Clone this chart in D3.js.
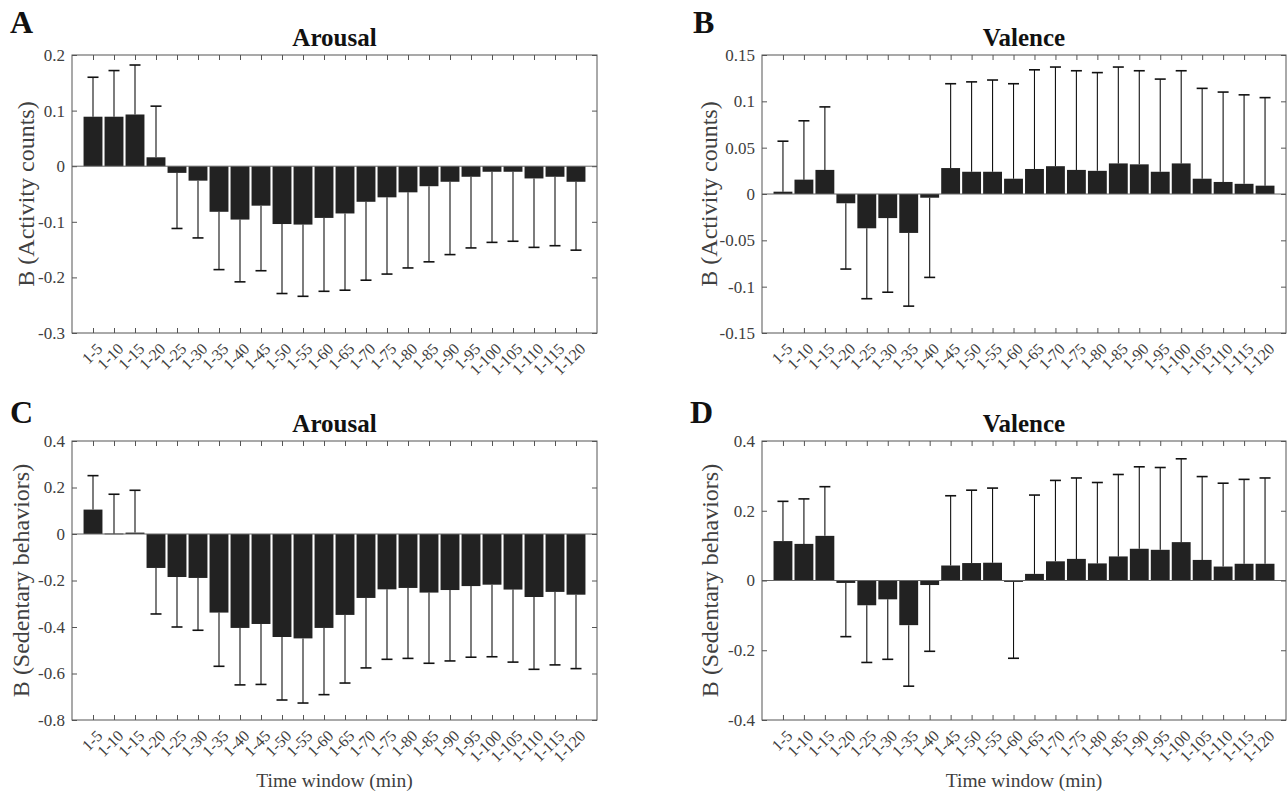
<!doctype html>
<html>
  <head>
    <meta charset="utf-8">
    <title>Arousal and valence</title>
    <script src="https://d3js.org/d3.v7.min.js"></script>
    <style type="text/css">
      body { margin: 0; background-color: #ffffff; }
    </style>
  </head>
  <body>
    <script>
      // Time window categories
      var windows = ["1-5","1-10","1-15","1-20","1-25","1-30","1-35","1-40","1-45","1-50","1-55","1-60",
                     "1-65","1-70","1-75","1-80","1-85","1-90","1-95","1-100","1-105","1-110","1-115","1-120"];

      // A: arousal vs activity counts
      var arousalActivity = [0.089,0.089,0.093,0.016,-0.012,-0.026,-0.082,-0.096,-0.071,-0.104,-0.105,-0.093,
                             -0.085,-0.064,-0.056,-0.047,-0.036,-0.028,-0.019,-0.010,-0.010,-0.022,-0.019,-0.028];
      var arousalActivityErr = [0.071,0.083,0.089,0.092,0.100,0.103,0.104,0.112,0.117,0.125,0.129,0.132,
                                0.138,0.141,0.138,0.136,0.136,0.131,0.128,0.127,0.125,0.124,0.124,0.123];

      // B: valence vs activity counts
      var valenceActivity = [0.0025,0.0155,0.026,-0.010,-0.037,-0.026,-0.042,-0.004,0.028,0.024,0.024,0.0165,
                             0.027,0.030,0.026,0.025,0.033,0.032,0.024,0.033,0.0165,0.013,0.011,0.009];
      var valenceActivityErr = [0.0545,0.0635,0.068,0.071,0.076,0.080,0.079,0.086,0.091,0.097,0.099,0.1025,
                                0.107,0.107,0.107,0.106,0.104,0.101,0.100,0.100,0.0975,0.097,0.096,0.095];

      // C: arousal vs sedentary behaviors
      var arousalSedentary = [0.105,0.002,0.006,-0.146,-0.185,-0.189,-0.338,-0.404,-0.387,-0.443,-0.449,-0.404,
                              -0.348,-0.275,-0.238,-0.232,-0.252,-0.241,-0.224,-0.218,-0.239,-0.271,-0.249,-0.261];
      var arousalSedentaryErr = [0.146,0.169,0.182,0.198,0.215,0.225,0.231,0.245,0.260,0.271,0.278,0.287,
                                 0.293,0.301,0.301,0.303,0.304,0.305,0.306,0.310,0.312,0.311,0.314,0.318];

      // D: valence vs sedentary behaviors
      var valenceSedentary = [0.113,0.105,0.128,-0.007,-0.071,-0.054,-0.128,-0.013,0.043,0.050,0.051,-0.004,
                              0.019,0.055,0.062,0.049,0.069,0.091,0.088,0.110,0.059,0.040,0.048,0.048];
      var valenceSedentaryErr = [0.114,0.129,0.141,0.154,0.164,0.172,0.175,0.190,0.200,0.209,0.214,0.219,
                                 0.226,0.232,0.232,0.232,0.235,0.235,0.236,0.239,0.239,0.239,0.242,0.246];

      // y tick values per panel
      var ticksA = [-0.3,-0.2,-0.1,0,0.1,0.2];
      var ticksB = [-0.15,-0.1,-0.05,0,0.05,0.1,0.15];
      var ticksC = [-0.8,-0.6,-0.4,-0.2,0,0.2,0.4];
      var ticksD = [-0.4,-0.2,0,0.2,0.4];

      var w = 1288, h = 797;
      var serif = "Liberation Serif, Times New Roman, serif";
      var axisColor = "#555555";
      var textColor = "#404040";
      var barColor = "#222222";

      var svg = d3.select("body")
        .append("svg")
        .attr("width", w)
        .attr("height", h)
        .attr("font-family", serif);

      function drawPanel(p) {
        var x = d3.scaleLinear().domain([0, 25]).range([p.left, p.right]);
        var y = d3.scaleLinear().domain([p.ticks[0], p.ticks[p.ticks.length - 1]]).range([p.bottom, p.top]);
        var g = svg.append("g");
        var bw = x(0.9) - x(0);

        // bars
        g.selectAll("rect.bar")
          .data(p.values)
          .enter()
          .append("rect")
          .attr("class", "bar")
          .attr("x", function(d, i) { return x(i + 1) - bw / 2; })
          .attr("y", function(d) { return Math.min(y(d), y(0)); })
          .attr("width", bw)
          .attr("height", function(d) { return Math.max(Math.abs(y(d) - y(0)), 0.8); })
          .attr("fill", barColor);

        // baseline
        g.append("line")
          .attr("x1", p.left).attr("x2", p.right)
          .attr("y1", y(0)).attr("y2", y(0))
          .attr("stroke", "#666666").attr("stroke-width", 1);

        // error bars (one sided, away from zero)
        var errs = p.values.map(function(d, i) {
          var e = p.errs[i];
          return { i: i, v: d, end: d >= 0 ? d + e : d - e };
        });
        var eb = g.selectAll("g.err").data(errs).enter().append("g").attr("class", "err");
        eb.append("line")
          .attr("x1", function(d) { return x(d.i + 1); })
          .attr("x2", function(d) { return x(d.i + 1); })
          .attr("y1", function(d) { return y(d.v); })
          .attr("y2", function(d) { return y(d.end); })
          .attr("stroke", "#111").attr("stroke-width", 1.1);
        eb.append("line")
          .attr("x1", function(d) { return x(d.i + 1) - 5.5; })
          .attr("x2", function(d) { return x(d.i + 1) + 5.5; })
          .attr("y1", function(d) { return y(d.end); })
          .attr("y2", function(d) { return y(d.end); })
          .attr("stroke", "#111").attr("stroke-width", 1.6);

        // axes box and inward ticks
        var idx = d3.range(1, 25);
        var yAxis = d3.axisLeft(y).tickValues(p.ticks).tickSize(-5).tickPadding(7)
          .tickFormat(function(d) { return String(+d.toFixed(3)); });
        var ga = g.append("g").attr("transform", "translate(" + p.left + ",0)").call(yAxis);
        ga.attr("font-family", serif).attr("font-size", 17);
        ga.select(".domain").remove();
        ga.selectAll("line").attr("stroke", axisColor);
        ga.selectAll("text").attr("fill", textColor);

        var yRight = d3.axisRight(y).tickValues(p.ticks).tickSize(-5).tickFormat("");
        var gr = g.append("g").attr("transform", "translate(" + p.right + ",0)").call(yRight);
        gr.select(".domain").remove();
        gr.selectAll("line").attr("stroke", axisColor);

        var xAxis = d3.axisBottom(x).tickValues(idx).tickSize(-5)
          .tickFormat(function(d) { return windows[d - 1]; });
        var gx = g.append("g").attr("transform", "translate(0," + p.bottom + ")").call(xAxis);
        gx.attr("font-family", serif).attr("font-size", 16);
        gx.select(".domain").remove();
        gx.selectAll("line").attr("stroke", axisColor);
        gx.selectAll("text")
          .attr("fill", textColor)
          .attr("x", 0).attr("y", 0)
          .attr("text-anchor", "end")
          .attr("dy", "0.35em")
          .attr("transform", "translate(6,13) rotate(-45)");

        var xTop = d3.axisTop(x).tickValues(idx).tickSize(-5).tickFormat("");
        var gt = g.append("g").attr("transform", "translate(0," + p.top + ")").call(xTop);
        gt.select(".domain").remove();
        gt.selectAll("line").attr("stroke", axisColor);

        g.append("rect")
          .attr("x", p.left).attr("y", p.top)
          .attr("width", p.right - p.left).attr("height", p.bottom - p.top)
          .attr("fill", "none").attr("stroke", axisColor).attr("stroke-width", 1);

        // title
        g.append("text")
          .attr("x", (p.left + p.right) / 2).attr("y", p.top - 9.5)
          .attr("text-anchor", "middle")
          .attr("font-size", 25).attr("font-weight", "bold").attr("fill", "#111")
          .text(p.title);

        // panel letter
        g.append("text")
          .attr("x", p.letterX).attr("y", p.letterY)
          .attr("font-size", 32).attr("font-weight", "bold").attr("fill", "#111")
          .text(p.letter);

        // y label
        g.append("text")
          .attr("transform", "translate(" + (p.left - p.ylabelOff) + "," + ((p.top + p.bottom) / 2) + ") rotate(-90)")
          .attr("dy", "0.35em")
          .attr("text-anchor", "middle")
          .attr("font-size", 24).attr("fill", textColor)
          .text(p.ylabel);

        if (p.xlabel) {
          g.append("text")
            .attr("x", (p.left + p.right) / 2).attr("y", p.bottom + 67)
            .attr("text-anchor", "middle")
            .attr("font-size", 19.5).attr("fill", textColor)
            .text(p.xlabel);
        }
      }

      drawPanel({ left: 72, right: 597, top: 55, bottom: 333, values: arousalActivity, errs: arousalActivityErr,
                  ticks: ticksA, title: "Arousal", letter: "A", letterX: 10, letterY: 33, ylabel: "B (Activity counts)", ylabelOff: 46 });
      drawPanel({ left: 762, right: 1286, top: 55, bottom: 333, values: valenceActivity, errs: valenceActivityErr,
                  ticks: ticksB, title: "Valence", letter: "B", letterX: 693, letterY: 33, ylabel: "B (Activity counts)", ylabelOff: 53 });
      drawPanel({ left: 72, right: 597, top: 441, bottom: 720, values: arousalSedentary, errs: arousalSedentaryErr,
                  ticks: ticksC, title: "Arousal", letter: "C", letterX: 10, letterY: 423, ylabel: "B (Sedentary behaviors)", ylabelOff: 51,
                  xlabel: "Time window (min)" });
      drawPanel({ left: 762, right: 1286, top: 441, bottom: 720, values: valenceSedentary, errs: valenceSedentaryErr,
                  ticks: ticksD, title: "Valence", letter: "D", letterX: 690, letterY: 423, ylabel: "B (Sedentary behaviors)", ylabelOff: 52,
                  xlabel: "Time window (min)" });
    </script>
  </body>
</html>
